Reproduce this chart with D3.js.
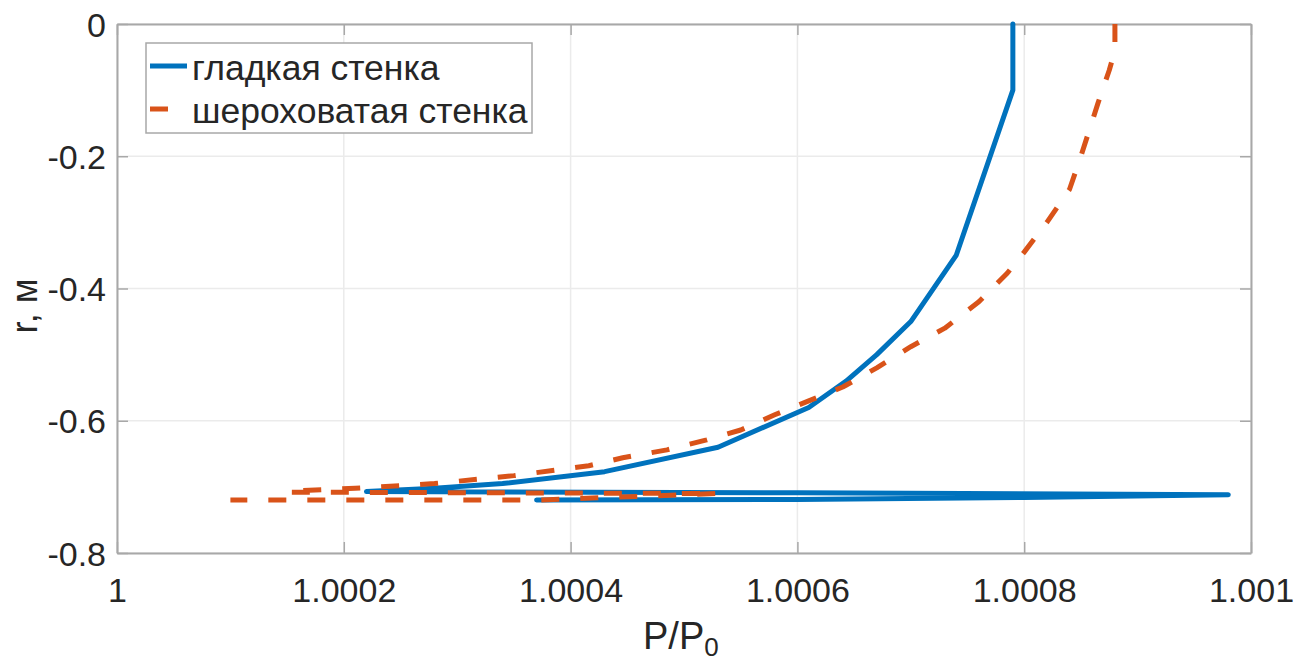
<!DOCTYPE html>
<html>
<head>
<meta charset="utf-8">
<script src="https://cdn.jsdelivr.net/npm/d3@7"></script>
<style>
  html, body { margin: 0; padding: 0; background: #fff; }
  svg { display: block; }
  text { font-family: "Liberation Sans", Arial, sans-serif; fill: #262626; }
</style>
</head>
<body>
<svg id="chart" width="1295" height="665"></svg>
<script>
// Pressure ratio P/P0 along the radius r (m) for a smooth and a rough wall
const smoothP = [1.00079, 1.00079, 1.00074, 1.0007, 1.00067, 1.000643, 1.00061, 1.00053, 1.00043, 1.00034, 1.00028, 1.00022, 1.0006, 1.00098, 1.0008, 1.0006, 1.00037];
const smoothR = [0, -0.1, -0.35, -0.45, -0.5, -0.54, -0.58, -0.64, -0.677, -0.695, -0.702, -0.707, -0.709, -0.712, -0.716, -0.719, -0.72];

const roughP = [1.00088, 1.00088, 1.000875, 1.000865, 1.00085, 1.00084, 1.00082, 1.0008, 1.000785, 1.00076, 1.00073, 1.0007, 1.00067, 1.00064, 1.00061, 1.00058, 1.00055, 1.00052, 1.000485, 1.000446, 1.000416, 1.00035, 1.00028, 1.00021, 1.000158, 1.00015, 1.00053, 1.00037, 1.0001];
const roughR = [0, -0.04, -0.07, -0.12, -0.2, -0.25, -0.3, -0.345, -0.377, -0.42, -0.46, -0.488, -0.52, -0.549, -0.57, -0.591, -0.614, -0.629, -0.644, -0.656, -0.668, -0.683, -0.695, -0.702, -0.706, -0.708, -0.71, -0.72, -0.72];

const xTicks = [1, 1.0002, 1.0004, 1.0006, 1.0008, 1.001];
const xTickLabels = ["1", "1.0002", "1.0004", "1.0006", "1.0008", "1.001"];
const yTicks = [0, -0.2, -0.4, -0.6, -0.8];
const yTickLabels = ["0", "-0.2", "-0.4", "-0.6", "-0.8"];

const seriesNames = ["гладкая стенка", "шероховатая стенка"];
const seriesColors = ["#0072BD", "#D95319"];

const svg = d3.select("#chart");
const L = 117, R = 1251, T = 24, B = 553;

const x = d3.scaleLinear().domain([1, 1.001]).range([L, R]);
const y = d3.scaleLinear().domain([-0.8, 0]).range([B, T]);

// grid
const grid = svg.append("g");
grid.selectAll("line.gx").data(xTicks).join("line")
  .attr("x1", d => x(d)).attr("x2", d => x(d)).attr("y1", T).attr("y2", B)
  .attr("stroke", "#ebebeb").attr("stroke-width", 1.5);
grid.selectAll("line.gy").data(yTicks).join("line")
  .attr("y1", d => y(d)).attr("y2", d => y(d)).attr("x1", L).attr("x2", R)
  .attr("stroke", "#ebebeb").attr("stroke-width", 1.5);

// axes with inward ticks
const tickLen = 11;
const axisColor = "#a8a8a8";
const xb = svg.append("g").attr("transform", `translate(0,${B})`)
  .call(d3.axisBottom(x).tickValues(xTicks).tickSizeInner(-tickLen).tickSizeOuter(0).tickFormat((d, i) => xTickLabels[i]));
const xt = svg.append("g").attr("transform", `translate(0,${T})`)
  .call(d3.axisTop(x).tickValues(xTicks).tickSizeInner(-tickLen).tickSizeOuter(0).tickFormat(""));
const yl = svg.append("g").attr("transform", `translate(${L},0)`)
  .call(d3.axisLeft(y).tickValues(yTicks).tickSizeInner(-tickLen).tickSizeOuter(0).tickFormat((d, i) => yTickLabels[i]));
const yr = svg.append("g").attr("transform", `translate(${R},0)`)
  .call(d3.axisRight(y).tickValues(yTicks).tickSizeInner(-tickLen).tickSizeOuter(0).tickFormat(""));

[xb, xt, yl, yr].forEach(g => {
  g.select(".domain").attr("stroke", axisColor).attr("stroke-width", 2);
  g.selectAll(".tick line").attr("stroke", axisColor).attr("stroke-width", 1.5);
});
xb.selectAll(".tick text").attr("font-size", 34).attr("y", 0).attr("dy", 49)
  .style("font-family", '"Liberation Sans", Arial, sans-serif').attr("fill", "#262626");
yl.selectAll(".tick text").attr("font-size", 34).attr("x", -11).attr("dy", 12)
  .style("font-family", '"Liberation Sans", Arial, sans-serif').attr("fill", "#262626");

// curves
const line = d3.line().x(d => x(d[0])).y(d => y(d[1]));
const smooth = smoothP.map((p, i) => [p, smoothR[i]]);
const rough = roughP.map((p, i) => [p, roughR[i]]);

svg.append("path").datum(smooth).attr("d", line)
  .attr("fill", "none").attr("stroke", seriesColors[0]).attr("stroke-width", 5)
  .attr("stroke-linejoin", "round").attr("stroke-linecap", "round");
svg.append("path").datum(rough).attr("d", line)
  .attr("fill", "none").attr("stroke", seriesColors[1]).attr("stroke-width", 5)
  .attr("stroke-dasharray", "18,21").attr("stroke-linejoin", "round");

// axis labels
const xl = svg.append("text").attr("x", 643).attr("y", 649).attr("font-size", 38);
xl.append("tspan").text("P/P");
xl.append("tspan").attr("font-size", 26).attr("dy", 7).text("0");

svg.append("text").attr("transform", "translate(37,306) rotate(-90)")
  .attr("text-anchor", "middle").attr("font-size", 36).text("r, м");

// legend
const lg = svg.append("g");
lg.append("rect").attr("x", 146).attr("y", 43).attr("width", 386).attr("height", 90)
  .attr("fill", "#fff").attr("stroke", "#a8a8a8").attr("stroke-width", 1.5);
const rows = [66, 109];
seriesNames.forEach((name, i) => {
  lg.append("line").attr("x1", 150).attr("x2", i === 0 ? 187 : 168)
    .attr("y1", rows[i]).attr("y2", rows[i])
    .attr("stroke", seriesColors[i]).attr("stroke-width", 5);
  lg.append("text").attr("x", 192).attr("y", rows[i] + 14).attr("font-size", 35.5).text(name);
});
</script>
</body>
</html>
